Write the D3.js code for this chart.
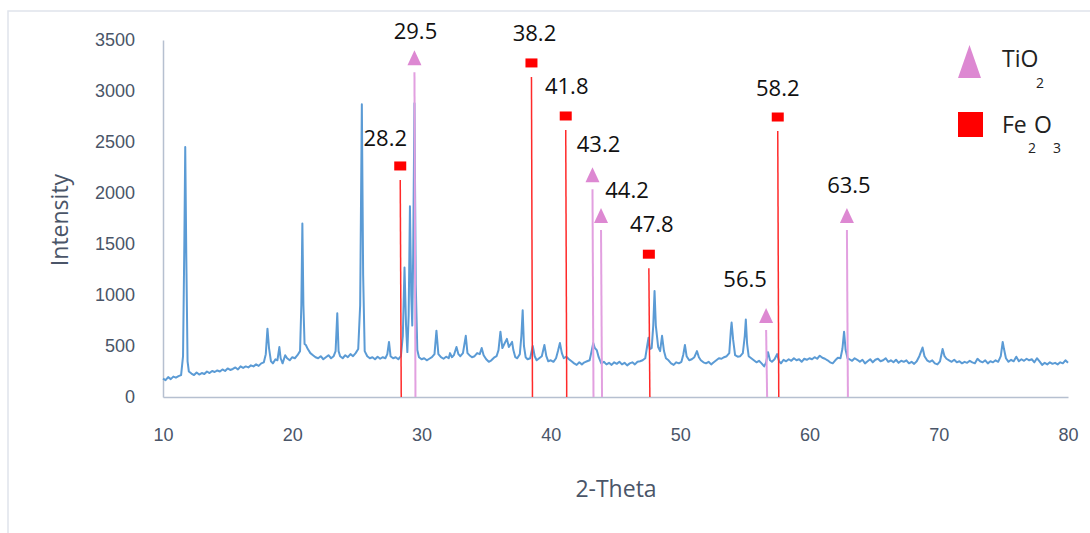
<!DOCTYPE html>
<html>
<head>
<meta charset="utf-8">
<title>XRD pattern</title>
<script src="https://cdn.jsdelivr.net/npm/d3@7/dist/d3.min.js"></script>
<style>
body { margin: 0; background: #ffffff; }
svg { display: block; font-family: "Open Sans", Lato, sans-serif; }
.tick text { fill: #4a5568; font-size: 18px; }
.axis path { stroke: #b6c0d0; stroke-width: 1.5; }
.title { fill: #4a5568; font-size: 23px; }
.peak-label { fill: #111; font-size: 22px; }
</style>
</head>
<body>
<svg></svg>
<script>
// measured pattern (2-theta, intensity)
var twoTheta = [10.0,10.2,10.4,10.6,10.8,11.0,11.2,11.4,11.55,11.65,11.72,11.8,11.9,12.0,12.2,12.4,12.6,12.8,13.0,13.2,13.4,13.6,13.8,14.0,14.2,14.4,14.6,14.8,15.0,15.2,15.4,15.6,15.8,16.0,16.2,16.4,16.6,16.8,17.0,17.2,17.4,17.6,17.8,17.95,18.08,18.2,18.35,18.5,18.7,18.85,19.0,19.1,19.25,19.45,19.6,19.8,20.0,20.2,20.4,20.6,20.7,20.78,20.86,20.95,21.05,21.2,21.4,21.6,21.8,22.0,22.2,22.4,22.6,22.8,23.0,23.2,23.35,23.48,23.58,23.7,23.9,24.1,24.3,24.5,24.7,24.9,25.1,25.25,25.38,25.48,25.6,25.8,26.0,26.2,26.4,26.6,26.8,27.0,27.2,27.35,27.48,27.6,27.8,28.0,28.2,28.4,28.55,28.68,28.8,28.9,29.0,29.1,29.2,29.28,29.35,29.45,29.55,29.67,29.8,30.0,30.2,30.4,30.6,30.8,31.0,31.15,31.3,31.5,31.7,31.9,32.1,32.2,32.35,32.5,32.7,32.85,33.0,33.2,33.42,33.55,33.7,33.9,34.1,34.3,34.5,34.65,34.8,35.0,35.2,35.4,35.6,35.8,35.95,36.1,36.25,36.4,36.6,36.75,36.85,37.0,37.1,37.25,37.4,37.6,37.72,37.82,37.92,38.05,38.2,38.4,38.6,38.75,38.9,39.1,39.3,39.5,39.65,39.8,40.0,40.2,40.4,40.55,40.7,40.85,41.0,41.2,41.4,41.6,41.8,42.0,42.2,42.4,42.6,42.8,43.0,43.15,43.28,43.4,43.55,43.7,43.9,44.1,44.3,44.5,44.7,44.9,45.1,45.3,45.5,45.7,45.9,46.1,46.3,46.5,46.7,46.9,47.1,47.3,47.45,47.55,47.65,47.8,47.92,48.02,48.12,48.3,48.45,48.6,48.75,48.9,49.1,49.3,49.5,49.7,49.9,50.1,50.25,50.37,50.5,50.7,50.9,51.1,51.3,51.45,51.6,51.8,52.0,52.2,52.4,52.6,52.8,53.0,53.2,53.4,53.6,53.8,53.92,53.98,54.1,54.25,54.45,54.65,54.85,55.0,55.08,55.18,55.3,55.5,55.7,55.9,56.1,56.3,56.5,56.65,56.8,56.95,57.1,57.3,57.5,57.65,57.8,58.0,58.2,58.4,58.6,58.8,59.0,59.2,59.4,59.6,59.8,60.0,60.2,60.4,60.6,60.8,61.0,61.2,61.4,61.6,61.8,62.0,62.2,62.4,62.55,62.68,62.8,62.95,63.1,63.3,63.5,63.7,63.9,64.1,64.3,64.5,64.7,64.9,65.1,65.3,65.5,65.7,65.9,66.1,66.3,66.5,66.7,66.9,67.1,67.3,67.5,67.7,67.9,68.1,68.3,68.5,68.75,68.9,69.1,69.3,69.5,69.7,69.9,70.1,70.3,70.45,70.6,70.8,71.0,71.2,71.4,71.6,71.8,72.0,72.2,72.4,72.6,72.8,73.0,73.2,73.4,73.6,73.8,74.0,74.2,74.4,74.6,74.8,74.95,75.05,75.2,75.4,75.6,75.8,76.0,76.2,76.4,76.6,76.8,77.0,77.2,77.4,77.6,77.8,78.0,78.2,78.4,78.6,78.8,79.0,79.2,79.4,79.6,79.8,80.0];
var intensity = [180,165,195,175,200,190,205,215,400,1500,2450,1400,350,250,230,215,240,220,235,225,250,235,255,245,260,250,270,255,280,265,275,290,270,300,285,300,290,310,300,320,305,330,340,420,670,480,350,330,370,360,490,380,330,410,380,360,390,380,410,450,900,1700,900,520,510,470,430,410,390,380,400,370,390,410,380,400,450,820,450,400,380,410,390,420,400,430,470,900,2870,1200,450,400,380,390,370,395,375,390,380,420,540,400,380,390,370,400,600,1270,700,440,800,1870,1000,700,1400,2880,1100,460,390,370,380,360,375,390,420,650,420,390,375,395,380,430,390,410,490,420,400,430,600,430,410,390,400,430,420,480,410,370,345,360,385,400,460,640,480,520,570,490,510,540,460,390,380,420,600,850,500,390,370,380,500,400,360,380,400,510,400,350,360,345,380,450,530,430,380,395,370,350,330,315,340,320,340,350,360,450,530,480,460,390,330,345,320,335,315,340,325,345,320,335,310,330,340,320,345,350,360,380,500,580,470,480,700,1040,700,490,450,600,450,380,360,330,315,340,330,345,420,510,400,360,370,390,450,390,360,340,330,345,320,340,360,380,375,390,400,430,650,730,560,410,395,400,430,600,760,520,400,380,360,340,355,330,300,340,440,360,345,370,420,350,330,365,350,370,355,380,360,370,345,375,365,380,370,390,375,405,385,375,360,340,330,360,385,380,470,640,460,380,370,355,380,365,345,365,330,350,370,340,365,375,350,360,380,345,360,340,365,335,355,345,360,330,345,325,350,400,485,400,360,345,360,330,320,350,470,400,375,360,345,365,340,350,330,345,335,355,340,330,375,350,340,360,330,350,340,360,345,400,540,470,380,345,365,350,395,350,370,355,375,360,370,340,380,350,315,335,320,340,325,335,320,340,330,360,335];

// reference peaks
var phase = ["Fe2O3","TiO2","Fe2O3","Fe2O3","TiO2","TiO2","Fe2O3","TiO2","Fe2O3","TiO2"];
var peakLabel = ["28.2","29.5","38.2","41.8","43.2","44.2","47.8","56.5","58.2","63.5"];
var peakPos = [28.35,29.45,38.5,41.15,43.22,43.88,47.58,56.65,57.55,62.9];
var peakHeight = [2265,3320,3275,2755,2175,1775,1400,795,2745,1775];
// label nudges in px [dx, dy] from marker
var labelNudge = [[-15,-20],[1,-19],[3,-22],[1,-22],[6,-23],[26,-18],[3,-22],[-21,-29],[0,-21],[2,-23]];

var yTicks = [0,500,1000,1500,2000,2500,3000,3500];
var xTicks = [10,20,30,40,50,60,70,80];

var width = 1090, height = 533;
var svg = d3.select("svg").attr("width", width).attr("height", height);

svg.append("rect").attr("x", 8).attr("y", 11).attr("width", 1100).attr("height", 600)
  .attr("fill", "none").attr("stroke", "#dfe4ec").attr("stroke-width", 1.5);

var x = d3.scaleLinear().domain([10, 80]).range([163, 1068]);
var y = d3.scaleLinear().domain([0, 3500]).range([397, 40]);

var xAxis = svg.append("g").attr("class", "axis").attr("transform", "translate(0,397)")
  .call(d3.axisBottom(x).tickValues(xTicks).tickSize(0).tickPadding(31).tickFormat(d3.format("d")));
var yAxis = svg.append("g").attr("class", "axis").attr("transform", "translate(163,0)")
  .call(d3.axisLeft(y).tickValues(yTicks).tickSize(0).tickPadding(28).tickFormat(d3.format("d")));
xAxis.selectAll("line").remove();
yAxis.selectAll("line").remove();
yAxis.selectAll("text").attr("dy", "0.28em");

svg.append("text").attr("class", "title").attr("text-anchor", "middle")
  .attr("transform", "translate(68,220) rotate(-90)").text("Intensity");
svg.append("text").attr("class", "title").attr("text-anchor", "middle")
  .attr("x", 616).attr("y", 497).text("2-Theta");

var pts = twoTheta.map(function(t, i) { return [t, intensity[i]]; });
var line = d3.line().x(function(d) { return x(d[0]); }).y(function(d) { return y(d[1]); });

var refs = peakPos.map(function(p, i) {
  return { pos: p, h: peakHeight[i], label: peakLabel[i], phase: phase[i], nudge: labelNudge[i] };
});

svg.append("path").datum(pts).attr("d", line)
  .attr("fill", "none").attr("stroke", "#5b9bd5").attr("stroke-width", 2).attr("stroke-linejoin", "round");

var g = svg.selectAll(".ref").data(refs).enter().append("g").attr("class", "ref");

g.append("line")
  .attr("x1", function(d) { return x(d.pos); })
  .attr("x2", function(d) { return x(d.pos) + 1; })
  .attr("y1", function(d) { return y(d.h) + 14; })
  .attr("y2", 397)
  .attr("stroke", function(d) { return d.phase == "TiO2" ? "#e2a0e0" : "#ff2a2a"; })
  .attr("stroke-width", function(d) { return d.phase == "TiO2" ? 2 : 1.5; });

g.filter(function(d) { return d.phase == "TiO2"; }).append("path")
  .attr("d", function(d) {
    var cx = x(d.pos), cy = y(d.h);
    return "M" + (cx - 7) + "," + (cy + 7) + "L" + cx + "," + (cy - 8) + "L" + (cx + 7) + "," + (cy + 7) + "Z";
  })
  .attr("fill", "#dd88d2");

g.filter(function(d) { return d.phase == "Fe2O3"; }).append("rect")
  .attr("x", function(d) { return x(d.pos) - 6; })
  .attr("y", function(d) { return y(d.h) - 4.5; })
  .attr("width", 12).attr("height", 9)
  .attr("fill", "#ff0000");

g.append("text").attr("class", "peak-label").attr("text-anchor", "middle")
  .attr("x", function(d) { return x(d.pos) + d.nudge[0]; })
  .attr("y", function(d) { return y(d.h) + d.nudge[1]; })
  .text(function(d) { return d.label; });

// legend
var leg = svg.append("g");
leg.append("path").attr("d", "M958,78L969.5,45L981,78Z").attr("fill", "#dd88d2");
leg.append("rect").attr("x", 958).attr("y", 112).attr("width", 25).attr("height", 25).attr("fill", "#ff0000");
leg.append("text").attr("x", 1002).attr("y", 67).attr("font-size", 23).attr("fill", "#222").text("TiO");
leg.append("text").attr("x", 1036).attr("y", 88).attr("font-size", 14).attr("fill", "#222").text("2");
leg.append("text").attr("x", 1002).attr("y", 133).attr("font-size", 23).attr("fill", "#222").text("Fe");
leg.append("text").attr("x", 1034).attr("y", 133).attr("font-size", 23).attr("fill", "#222").text("O");
leg.append("text").attr("x", 1028).attr("y", 153).attr("font-size", 14).attr("fill", "#222").text("2");
leg.append("text").attr("x", 1053).attr("y", 153).attr("font-size", 14).attr("fill", "#222").text("3");
</script>
</body>
</html>
